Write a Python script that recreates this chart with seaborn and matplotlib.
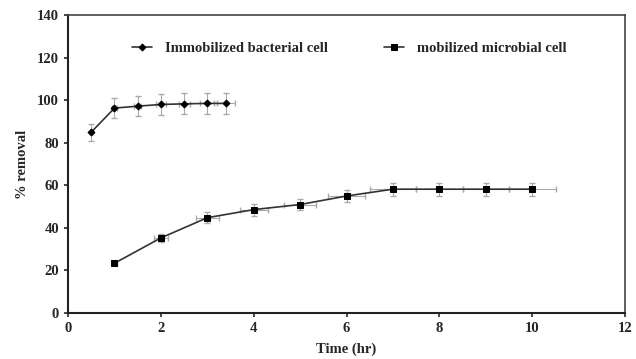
import matplotlib
matplotlib.use('Agg')
import matplotlib.pyplot as plt
import seaborn as sns
import pandas as pd

# Immobilized bacterial cell
imm_time = [0.5, 1.0, 1.5, 2.0, 2.5, 3.0, 3.4]
imm_removal = [85.0, 96.3, 97.2, 98.0, 98.3, 98.5, 98.5]
imm_err = [4.0, 4.8, 4.8, 4.8, 5.0, 5.0, 5.0]
imm_xerr = [0.03, 0.05, 0.08, 0.1, 0.12, 0.15, 0.2]

# mobilized microbial cell
mob_time = [1, 2, 3, 4, 5, 6, 7, 8, 9, 10]
mob_removal = [23.4, 35.3, 44.8, 48.6, 51.0, 55.0, 58.2, 58.2, 58.2, 58.2]
mob_err = [1.0, 1.8, 2.5, 2.8, 2.8, 3.0, 3.0, 3.0, 3.0, 3.0]
mob_xerr = [0.05, 0.15, 0.25, 0.3, 0.35, 0.4, 0.5, 0.5, 0.5, 0.5]

df_imm = pd.DataFrame({'time': imm_time, 'removal': imm_removal})
df_mob = pd.DataFrame({'time': mob_time, 'removal': mob_removal})

sns.set_style('ticks')
plt.rcParams['font.family'] = ['Liberation Serif', 'DejaVu Serif']
plt.rcParams['font.weight'] = 'bold'

fig, ax = plt.subplots(figsize=(6.36, 3.59), dpi=100)

ax.errorbar(imm_time, imm_removal, yerr=imm_err, xerr=imm_xerr, fmt='none',
            ecolor='#aaaaaa', elinewidth=0.8, capsize=2)
ax.errorbar(mob_time, mob_removal, yerr=mob_err, xerr=mob_xerr, fmt='none',
            ecolor='#aaaaaa', elinewidth=0.8, capsize=2)

sns.lineplot(data=df_imm, x='time', y='removal', ax=ax, color='#333333',
             marker='D', markersize=3.5, markeredgecolor='black',
             markerfacecolor='black', linewidth=1.2,
             label='Immobilized bacterial cell')
sns.lineplot(data=df_mob, x='time', y='removal', ax=ax, color='#333333',
             marker='s', markersize=5, markeredgecolor='black',
             markerfacecolor='black', linewidth=1.2,
             label='mobilized microbial cell')

ax.set_xlim(0, 12)
ax.set_ylim(0, 140)
ax.set_xticks(range(0, 13, 2))
ax.set_yticks(range(0, 141, 20))
ax.tick_params(labelsize=10.5, length=3, width=1.2, direction='out')
for lbl in ax.get_xticklabels() + ax.get_yticklabels():
    lbl.set_fontweight('bold')

ax.set_xlabel('Time (hr)', fontsize=10.5, fontweight='bold', labelpad=5)
ax.set_ylabel('% removal', fontsize=10.5, fontweight='bold', labelpad=6)

for side in ['left', 'bottom']:
    ax.spines[side].set_linewidth(1.5)
    ax.spines[side].set_color('#222222')
for side in ['top', 'right']:
    ax.spines[side].set_visible(True)
    ax.spines[side].set_linewidth(1.2)
    ax.spines[side].set_color('#444444')

ax.legend(loc='upper center', ncol=2, frameon=False,
          bbox_to_anchor=(0.505, 0.955), columnspacing=3.8,
          handlelength=1.4, handletextpad=0.9,
          prop={'weight': 'bold', 'size': 10.5})

fig.subplots_adjust(left=0.107, right=0.983, top=0.958, bottom=0.128)
fig.savefig('out.png', dpi=100)
